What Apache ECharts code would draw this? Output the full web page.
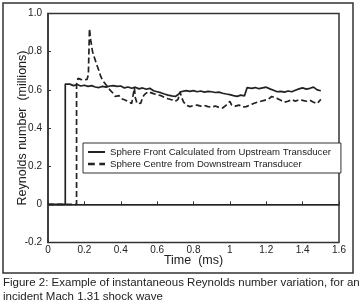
<!DOCTYPE html>
<html><head><meta charset="utf-8">
<script src="https://cdn.jsdelivr.net/npm/echarts@6/dist/echarts.min.js"></script>
<style>html,body{margin:0;padding:0;background:#fff}#c{width:364px;height:305px}</style>
</head><body><div id="c"></div>
<script>
const seriesNames = ['Sphere Front Calculated from Upstream Transducer', 'Sphere Centre from Downstream Transducer'];
const xTickLabels = ['0','0.2','0.4','0.6','0.8','1','1.2','1.4','1.6'];
const yTickLabels = ['-0.2','0','0.2','0.4','0.6','0.8','1.0'];
const frontT = [0,0.095,0.095,0.10,0.12,0.14,0.16,0.18,0.20,0.22,0.24,0.26,0.28,0.30,0.32,0.34,0.36,0.38,0.40,0.42,0.44,0.46,0.48,0.50,0.52,0.54,0.56,0.58,0.60,0.62,0.64,0.66,0.68,0.70,0.72,0.73,0.74,0.76,0.78,0.80,0.82,0.84,0.86,0.88,0.90,0.92,0.94,0.96,0.98,1.00,1.02,1.04,1.06,1.08,1.09,1.095,1.12,1.14,1.16,1.18,1.20,1.22,1.24,1.26,1.28,1.30,1.32,1.34,1.36,1.38,1.40,1.42,1.44,1.46,1.48,1.50];
const frontRe = [0,0,0.63,0.625,0.63,0.622,0.628,0.62,0.624,0.618,0.622,0.615,0.612,0.618,0.614,0.62,0.622,0.618,0.62,0.61,0.615,0.608,0.614,0.605,0.61,0.603,0.608,0.595,0.59,0.585,0.578,0.572,0.568,0.565,0.578,0.59,0.60,0.596,0.592,0.596,0.59,0.594,0.588,0.592,0.59,0.586,0.588,0.582,0.578,0.575,0.57,0.566,0.572,0.568,0.57,0.612,0.608,0.612,0.606,0.61,0.614,0.605,0.598,0.59,0.592,0.588,0.594,0.59,0.598,0.605,0.61,0.604,0.608,0.614,0.60,0.595];
const centreT = [0,0.157,0.157,0.165,0.18,0.20,0.215,0.222,0.228,0.235,0.245,0.255,0.265,0.28,0.29,0.30,0.32,0.34,0.36,0.37,0.39,0.40,0.42,0.43,0.44,0.46,0.47,0.475,0.48,0.49,0.50,0.51,0.52,0.53,0.55,0.56,0.58,0.60,0.62,0.64,0.66,0.68,0.70,0.715,0.726,0.735,0.745,0.76,0.78,0.80,0.82,0.84,0.86,0.88,0.90,0.92,0.94,0.96,0.98,1.00,1.01,1.03,1.05,1.07,1.09,1.11,1.13,1.15,1.17,1.19,1.21,1.23,1.24,1.26,1.28,1.30,1.32,1.34,1.36,1.38,1.40,1.42,1.44,1.46,1.48,1.50];
const centreRe = [0,0,0.63,0.66,0.655,0.652,0.655,0.68,0.92,0.86,0.80,0.77,0.74,0.70,0.67,0.65,0.625,0.60,0.58,0.565,0.57,0.555,0.548,0.55,0.54,0.528,0.52,0.61,0.56,0.527,0.52,0.53,0.56,0.575,0.59,0.585,0.58,0.575,0.57,0.56,0.553,0.548,0.54,0.55,0.59,0.56,0.537,0.52,0.512,0.518,0.52,0.515,0.518,0.512,0.51,0.515,0.508,0.505,0.52,0.54,0.52,0.515,0.52,0.51,0.512,0.52,0.528,0.535,0.54,0.545,0.55,0.565,0.57,0.555,0.545,0.535,0.54,0.55,0.54,0.548,0.545,0.54,0.545,0.535,0.528,0.55];

const F = '"Liberation Sans", Arial, sans-serif';
const INK = '#222';
const chart = echarts.init(document.getElementById('c'), null, {renderer: 'canvas'});
const zip = (a, b) => a.map((v, i) => [v, b[i]]);
chart.setOption({
  animation: false,
  backgroundColor: '#fff',
  grid: {left: 48, right: 25, top: 13.5, bottom: 62.5, outerBoundsMode: 'none', containLabel: false,
    show: true, borderColor: '#333', borderWidth: 1.5},
  xAxis: {
    type: 'value', min: 0, max: 1.6, interval: 0.2,
    name: 'Time  (ms)', nameLocation: 'middle', nameGap: 12, nameMoveOverlap: false,
    nameTextStyle: {fontFamily: F, fontSize: 12.5, color: INK},
    axisLine: {lineStyle: {color: '#333', width: 1.5}},
    axisTick: {inside: true, length: 3, lineStyle: {color: '#333'}},
    axisLabel: {fontFamily: F, fontSize: 10, color: INK, margin: 3,
      formatter: v => xTickLabels[Math.round(v / 0.2)]},
    splitLine: {show: false}
  },
  yAxis: {
    type: 'value', min: -0.2, max: 1.0, interval: 0.2,
    name: 'Reynolds number  (millions)', nameLocation: 'middle', nameGap: 19, nameMoveOverlap: false,
    nameTextStyle: {fontFamily: F, fontSize: 12.5, color: INK},
    axisLine: {lineStyle: {color: '#333', width: 1.5}},
    axisTick: {inside: true, length: 3, lineStyle: {color: '#333'}},
    axisLabel: {fontFamily: F, fontSize: 10, color: INK, margin: 6,
      formatter: v => yTickLabels[Math.round((v + 0.2) / 0.2)]},
    splitLine: {show: false}
  },
  legend: {
    orient: 'vertical', left: 83, top: 143,
    itemWidth: 17, itemHeight: 10, itemGap: 2,
    padding: [4, 10, 4, 5],
    borderColor: '#333', borderWidth: 1, backgroundColor: '#fff',
    textStyle: {fontFamily: F, fontSize: 9.6, color: INK},
    data: [
      {name: seriesNames[0], icon: 'path://M0,4H17V6H0Z'},
      {name: seriesNames[1], icon: 'path://M0,4H6V6H0ZM10,4H15V6H10Z'}
    ]
  },
  series: [
    {
      name: seriesNames[0], type: 'line', data: zip(frontT, frontRe),
      symbol: 'none', lineStyle: {color: INK, width: 1.7}, itemStyle: {color: INK},
      markLine: {silent: true, symbol: 'none', label: {show: false},
        lineStyle: {type: 'solid', color: INK, width: 1.2}, data: [{yAxis: 0}]}
    },
    {
      name: seriesNames[1], type: 'line', data: zip(centreT, centreRe),
      symbol: 'none', lineStyle: {color: INK, width: 1.7, type: [6, 3]}, itemStyle: {color: INK}
    }
  ],
  graphic: [
    {type: 'rect', shape: {x: 3, y: 3, width: 350, height: 270}, style: {fill: null, stroke: '#333', lineWidth: 1.5}, silent: true},
    {type: 'text', left: 3, top: 276, style: {text: 'Figure 2: Example of instantaneous Reynolds number variation, for an\nincident Mach 1.31 shock wave', font: '11.5px ' + F, fill: INK, lineHeight: 14}}
  ]
});
</script></body></html>
